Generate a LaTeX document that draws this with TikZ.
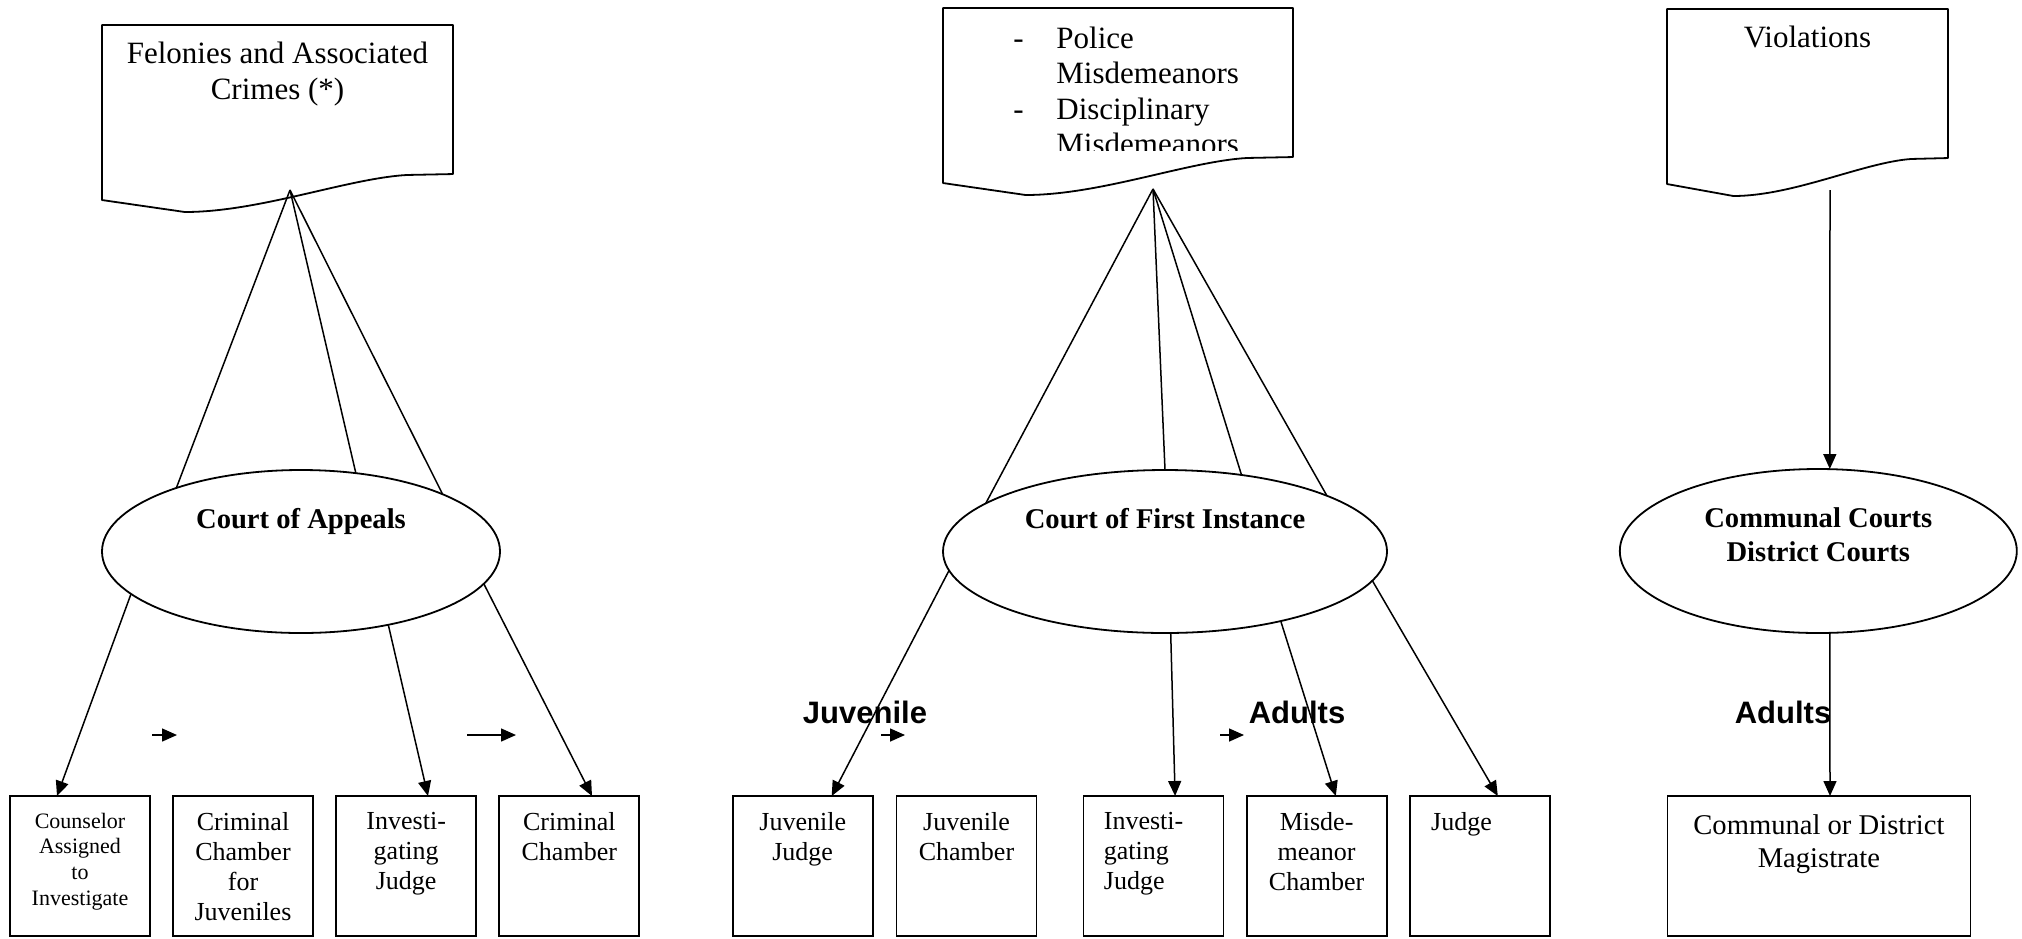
\documentclass[tikz,border=0pt]{standalone}
\usepackage{fontspec}
\setmainfont{Liberation Serif}
\newfontfamily\labelfont{Liberation Sans}
\usetikzlibrary{arrows.meta,shapes.geometric,calc}

% outline of a "document" sheet with a wavy lower edge, drawn on an invisible node
\newcommand\docoutline[2]{%
  \begin{scope}[shift={(#1.north west)}, x={(#2,0)}, y={(0,-93.5pt)}]
    \draw[line width=0.9pt, line join=round]
      (0,0) -- (1,0) -- (1,0.797) -- (0.869,0.802)
      .. controls (0.70,0.82) and (0.45,1.0) .. (0.236,1.0)
      -- (0,0.936) -- cycle;
  \end{scope}}

\tikzset{
  docbox/.style={inner sep=0pt, outer sep=0pt, minimum height=93.5pt},
  doctext/.style={font=\fontsize{15.5pt}{17.75pt}\selectfont, align=center, inner sep=0pt, anchor=north},
  court/.style={ellipse, draw, line width=0.9pt, inner sep=0pt, outer sep=0pt, minimum height=81.5pt},
  courttext/.style={font=\fontsize{14.3pt}{16.8pt}\selectfont\bfseries, align=center, inner sep=0pt, anchor=north},
  unit/.style={draw, line width=0.9pt, inner sep=0pt, outer sep=0pt, minimum width=70pt, minimum height=70pt},
  unittext/.style={font=\fontsize{13pt}{15pt}\selectfont, align=center, inner sep=0pt, anchor=north},
  link/.style={line width=0.75pt},
  flow/.style={line width=0.75pt, -{Triangle[length=7.5pt,width=6.5pt]}},
  tag/.style={font=\labelfont\bfseries\fontsize{15.5pt}{17pt}\selectfont, inner sep=0pt},
}

\begin{document}
\begin{tikzpicture}[x=0.5pt, y=-0.5pt]
\fill[white] (0,0) rectangle (2022,938);
\useasboundingbox (0,0) rectangle (2022,938);

% ---------- offence categories ----------
\node[docbox, minimum width=175.5pt] (d1) at (277.5,118.5) {};
\docoutline{d1}{175.5pt}
\node[doctext] (d1t) at ([yshift=-8.5pt]d1.north) {Felonies and Associated\\Crimes (*)};

\node[docbox, minimum width=175pt] (d2) at (1118,101.5) {};
\docoutline{d2}{175pt}
\begin{scope}
  \clip (943,8) rectangle (1293,150);
  \node[doctext, anchor=north west, align=left] (d2t) at (1013,23)
    {\begin{tabular}{@{}p{21.5pt}@{}l@{}}
      - & Police\\
        & Misdemeanors\\
      - & Disciplinary\\
        & Misdemeanors
     \end{tabular}};
\end{scope}

\node[docbox, minimum width=140.5pt] (d3) at (1807.5,102.5) {};
\docoutline{d3}{140.5pt}
\node[doctext] (d3t) at ([yshift=-8.5pt]d3.north) {Violations};

\coordinate (a1) at (290,190);
\coordinate (a2) at (1153,189);
\coordinate (a3) at (1830,190);

% ---------- courts ----------
\node[court, minimum width=199pt] (e1) at (301,551.5) {};
\node[courttext] (e1t) at ([yshift=21.75pt]e1.center) {Court of Appeals};

\node[court, minimum width=222pt] (e2) at (1165,551.5) {};
\node[courttext] (e2t) at ([yshift=21.75pt]e2.center) {Court of First Instance};

\node[court, minimum width=198.5pt, minimum height=82pt] (e3) at (1818.3,551) {};
\node[courttext] (e3t) at ([yshift=21.75pt]e3.center) {Communal Courts\\District Courts};

% ---------- judicial bodies ----------
\node[unit] (b1) at (80,866) {};
\node[unittext, font=\fontsize{11pt}{12.9pt}\selectfont] (b1t) at ([yshift=-8.25pt]b1.north) {Counselor\\Assigned\\to\\Investigate};
\node[unit] (b2) at (243,866) {};
\node[unittext] (b2t) at ([yshift=-8pt]b2.north) {Criminal\\Chamber\\for\\Juveniles};
\node[unit] (b3) at (406.2,866) {};
\node[unittext] (b3t) at ([yshift=-8pt]b3.north) {Investi-\\gating\\Judge};
\node[unit] (b4) at (569.3,866) {};
\node[unittext] (b4t) at ([yshift=-8pt]b4.north) {Criminal\\Chamber};

\node[unit] (b5) at (802.7,866) {};
\node[unittext] (b5t) at ([yshift=-8pt]b5.north) {Juvenile\\Judge};
\node[unit] (b6) at (966.5,866) {};
\node[unittext] (b6t) at ([yshift=-8pt]b6.north) {Juvenile\\Chamber};
\node[unit] (b7) at (1153.5,866) {};
\node[unittext, anchor=north west, align=left] (b7t) at ([xshift=10pt,yshift=-8pt]b7.north west) {Investi-\\gating\\Judge};
\node[unit] (b8) at (1316.6,866) {};
\node[unittext] (b8t) at ([yshift=-8pt]b8.north) {Misde-\\meanor\\Chamber};
\node[unit] (b9) at (1479.8,866) {};
\node[unittext, anchor=north west, align=left] (b9t) at ([xshift=10.5pt,yshift=-8pt]b9.north west) {Judge};

\node[unit, minimum width=151.5pt] (b10) at (1818.9,866) {};
\node[unittext, font=\fontsize{14.3pt}{16.8pt}\selectfont] (b10t) at ([yshift=-9pt]b10.north) {Communal or District\\Magistrate};

% ---------- age labels ----------
\node[tag] (tj) at (865,712) {Juvenile};
\node[tag] (ta1) at (1297,712) {Adults};
\node[tag] (ta2) at (1783,712) {Adults};

% ---------- connectors from categories to courts ----------
\draw[link] (a1) -- (e1.153.1);
\draw[link] (a1) -- (e1.55.5);
\draw[link] (a1) -- (e1.22.7);

\draw[link] (a2) -- (e2.165);
\draw[link] (a2) -- (e2.90.7);
\draw[link] (a2) -- (e2.45.6);
\draw[link] (a2) -- (e2.19.3);

\draw[flow] (a3) -- ([xshift=5.75pt]e3.north);

% ---------- connectors from courts to bodies ----------
\draw[flow] (e1.194.8) -- ([xshift=-11.5pt]b1.north);
\draw[flow] (e1.320.5) -- ([xshift=10.9pt]b3.north);
\draw[flow] (e1.350.3) -- ([xshift=11.35pt]b4.north);

\draw[flow] (e2.185.1) -- ([xshift=14.5pt]b5.north);
\draw[flow] (e2.274.2) -- ([xshift=10.8pt]b7.north);
\draw[flow] (e2.329.4) -- ([xshift=9.6pt]b8.north);
\draw[flow] (e2.352.6) -- ([xshift=9pt]b9.north);

\draw[flow] ([xshift=5.75pt]e3.south) -- ([xshift=5.55pt]b10.north);

% ---------- short stand-alone arrows ----------
\coordinate (s1a) at (152,735);  \coordinate (s1b) at (177,735);
\coordinate (s2a) at (467,735);  \coordinate (s2b) at (516,735);
\coordinate (s3a) at (881,735);  \coordinate (s3b) at (905,735);
\coordinate (s4a) at (1220,735); \coordinate (s4b) at (1244,735);
\draw[flow] (s1a) -- (s1b);
\draw[flow] (s2a) -- (s2b);
\draw[flow] (s3a) -- (s3b);
\draw[flow] (s4a) -- (s4b);
\end{tikzpicture}
\end{document}
